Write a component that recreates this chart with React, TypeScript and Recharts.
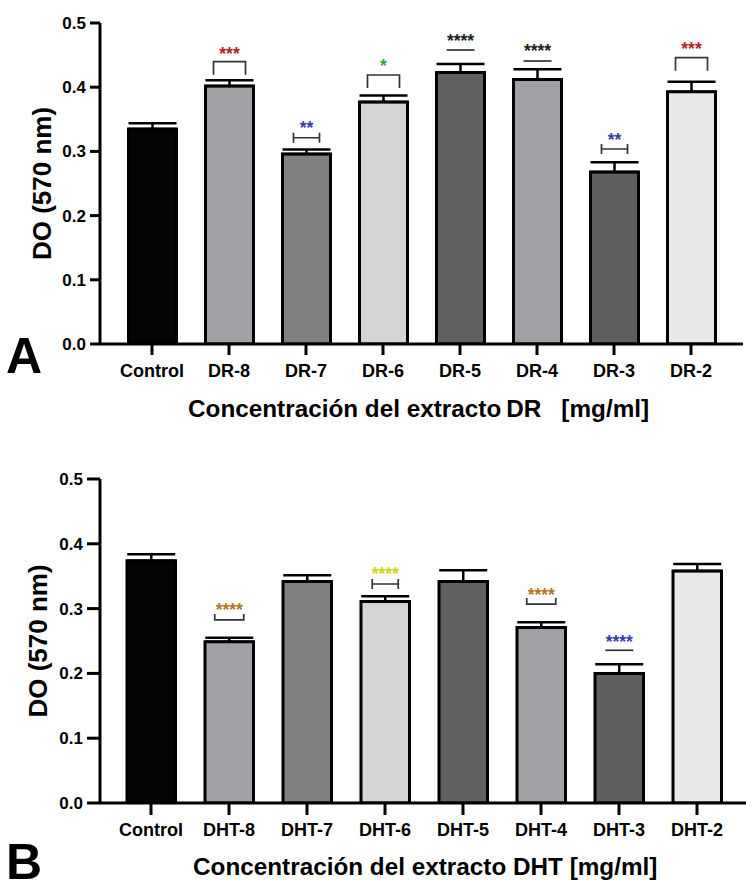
import React from 'react';
import { BarChart, Bar, XAxis, YAxis, ErrorBar, Cell } from 'recharts';

const FONT = '"Liberation Sans", Arial, Helvetica, sans-serif';

// ---------- Panel A data ----------
const categoriesA = ['Control', 'DR-8', 'DR-7', 'DR-6', 'DR-5', 'DR-4', 'DR-3', 'DR-2'];
const valuesA = [0.335, 0.402, 0.296, 0.377, 0.423, 0.412, 0.268, 0.393];
const errorsA = [0.009, 0.009, 0.007, 0.01, 0.013, 0.016, 0.015, 0.0156];
const sigA = ['', '***', '**', '*', '****', '****', '**', '***'];
const sigColorA = ['', '#b3232b', '#3b40a8', '#2aa83a', '#222222', '#222222', '#3b40a8', '#b3232b'];
const sigMarkA = ['none', 'down', 'ibeam', 'down', 'line', 'line', 'ibeam', 'down'];
const sigStarLevelA = [0, 0.4595, 0.3427, 0.4397, 0.4787, 0.463, 0.3255, 0.4668];
const sigMarkLevelA = [0, 0.4397, 0.3213, 0.419, 0.458, 0.4408, 0.3037, 0.446];

// ---------- Panel B data ----------
const categoriesB = ['Control', 'DHT-8', 'DHT-7', 'DHT-6', 'DHT-5', 'DHT-4', 'DHT-3', 'DHT-2'];
const valuesB = [0.374, 0.249, 0.342, 0.311, 0.342, 0.271, 0.2, 0.358];
const errorsB = [0.01, 0.006, 0.0096, 0.008, 0.017, 0.008, 0.014, 0.011];
const sigB = ['', '****', '', '****', '', '****', '****', ''];
const sigColorB = ['', '#ad7a26', '', '#d2d21c', '', '#ad7a26', '#3b40b0', ''];
const sigMarkB = ['none', 'up', 'none', 'ibeam', 'none', 'up', 'line', 'none'];
const sigStarLevelB = [0, 0.3046, 0, 0.361, 0, 0.328, 0.2558, 0];
const sigMarkLevelB = [0, 0.2825, 0, 0.338, 0, 0.307, 0.2357, 0];

const yTicks = [0, 0.1, 0.2, 0.3, 0.4, 0.5];

const barFills = ['#050505', '#a0a1a5', '#808080', '#d4d4d4', '#606060', '#a0a1a5', '#5f5f5f', '#e8e9e8'];

const dataA = categoriesA.map((name, i) => ({ name, value: valuesA[i], err: [0, errorsA[i]] }));
const dataB = categoriesB.map((name, i) => ({ name, value: valuesB[i], err: [0, errorsB[i]] }));

function makeSigLabel(
  sig: string[],
  colors: string[],
  marks: string[],
  starLv: number[],
  markLv: number[]
) {
  return (props: any) => {
    const { x, y, width, height, index, value } = props;
    const i = Number(index);
    const s = sig[i];
    if (!s) return null;
    const v = Number(Array.isArray(value) ? value[1] : value);
    const h = Number(height);
    const k = h / v;
    const base = Number(y) + h;
    const py = (val: number) => base - val * k;
    const cx = Number(x) + Number(width) / 2;
    const m = marks[i];
    const my = py(markLv[i]);
    let mark: React.ReactNode = null;
    const st = { stroke: '#333', strokeWidth: 1.7, fill: 'none' };
    if (m === 'down') {
      const hw = 16;
      mark = <path d={`M${cx - hw},${my + 13} L${cx - hw},${my} L${cx + hw},${my} L${cx + hw},${my + 13}`} {...st} />;
    } else if (m === 'up') {
      const hw = 14.5;
      mark = <path d={`M${cx - hw},${my - 6} L${cx - hw},${my} L${cx + hw},${my} L${cx + hw},${my - 6}`} {...st} />;
    } else if (m === 'ibeam') {
      const hw = 13;
      mark = (
        <path
          d={`M${cx - hw},${my - 5} L${cx - hw},${my + 5} M${cx - hw},${my} L${cx + hw},${my} M${cx + hw},${my - 5} L${cx + hw},${my + 5}`}
          {...st}
        />
      );
    } else if (m === 'line') {
      const hw = 14;
      mark = <path d={`M${cx - hw},${my} L${cx + hw},${my}`} {...st} />;
    }
    return (
      <g>
        {mark}
        <text
          x={cx}
          y={py(starLv[i]) + 10.5}
          textAnchor="middle"
          fontSize={17.5}
          fontWeight="bold"
          fontFamily={FONT}
          fill={colors[i]}
        >
          {s}
        </text>
      </g>
    );
  };
}

const yLabel = (dx: number) => (props: any) => {
  const vb = props.viewBox || { x: 0, y: 0, width: 100, height: 300 };
  const cx = vb.x + dx;
  const cy = vb.y + vb.height / 2;
  return (
    <text
      x={cx}
      y={cy}
      transform={`rotate(-90 ${cx} ${cy})`}
      textAnchor="middle"
      fontSize={26}
      fontWeight="bold"
      fontFamily={FONT}
      fill="#000"
    >
      DO (570 nm)
    </text>
  );
};

const xLabelA = (props: any) => {
  const vb = props.viewBox || { x: 100, y: 344, width: 643, height: 96 };
  const by = vb.y + 73;
  return (
    <g>
      <text x={6} y={vb.y + 29} fontSize={50} fontWeight="bold" fontFamily={FONT} fill="#000">
        A
      </text>
      <text x={188} y={by} fontSize={24.3} fontWeight="bold" fontFamily={FONT} fill="#000">
        Concentración del extracto
        <tspan dx={5}>DR</tspan>
        <tspan dx={20}>[mg/ml]</tspan>
      </text>
    </g>
  );
};

const xLabelB = (props: any) => {
  const vb = props.viewBox || { x: 100, y: 363, width: 646, height: 77 };
  return (
    <g>
      <text x={6} y={vb.y + 76} fontSize={50} fontWeight="bold" fontFamily={FONT} fill="#000">
        B
      </text>
      <text x={193} y={vb.y + 72} fontSize={24.3} fontWeight="bold" fontFamily={FONT} fill="#000">
        Concentración del extracto DHT [mg/ml]
      </text>
    </g>
  );
};

const axisStyle = { stroke: '#000', strokeWidth: 3 };
const tickFont = { fill: '#000', fontSize: 18, fontWeight: 'bold', fontFamily: FONT };
const yTickFont = { fill: '#000', fontSize: 17, fontWeight: 'bold', fontFamily: FONT };

export default function App() {
  return (
    <div style={{ position: 'absolute', left: 0, top: 0, width: 746, height: 880, background: '#fff', overflow: 'hidden' }}>
      <div style={{ position: 'absolute', left: 0, top: 0 }}>
        <BarChart width={746} height={440} data={dataA} margin={{ top: 23, right: 3, bottom: 0, left: 0 }}>
          <XAxis
            dataKey="name"
            interval={0}
            height={96}
            padding={{ left: 13.5, right: 13.5 }}
            axisLine={axisStyle}
            tickLine={axisStyle}
            tickSize={11}
            tickMargin={9}
            tick={tickFont}
            label={{ content: xLabelA }}
          />
          <YAxis
            domain={[0, 0.5]}
            ticks={yTicks}
            tickFormatter={(v: number) => v.toFixed(1)}
            width={100}
            axisLine={axisStyle}
            tickLine={axisStyle}
            tickSize={10}
            tickMargin={4}
            tick={yTickFont}
            allowDataOverflow
            label={{ content: yLabel(51) }}
          />
          <Bar
            dataKey="value"
            barSize={48}
            stroke="#000"
            strokeWidth={3}
            isAnimationActive={false}
            label={makeSigLabel(sigA, sigColorA, sigMarkA, sigStarLevelA, sigMarkLevelA)}
          >
            {dataA.map((d, i) => (
              <Cell key={d.name} fill={barFills[i]} />
            ))}
            <ErrorBar dataKey="err" direction="y" width={24} stroke="#000" strokeWidth={2.5} isAnimationActive={false} />
          </Bar>
        </BarChart>
      </div>
      <div style={{ position: 'absolute', left: 0, top: 440 }}>
        <BarChart width={746} height={440} data={dataB} margin={{ top: 39, right: 0, bottom: 0, left: 0 }}>
          <XAxis
            dataKey="name"
            interval={0}
            height={77}
            padding={{ left: 12, right: 10 }}
            axisLine={axisStyle}
            tickLine={axisStyle}
            tickSize={12}
            tickMargin={8}
            tick={tickFont}
            label={{ content: xLabelB }}
          />
          <YAxis
            domain={[0, 0.5]}
            ticks={yTicks}
            tickFormatter={(v: number) => v.toFixed(1)}
            width={100}
            axisLine={axisStyle}
            tickLine={axisStyle}
            tickSize={13}
            tickMargin={4}
            tick={yTickFont}
            allowDataOverflow
            label={{ content: yLabel(47) }}
          />
          <Bar
            dataKey="value"
            barSize={48.5}
            stroke="#000"
            strokeWidth={3}
            isAnimationActive={false}
            label={makeSigLabel(sigB, sigColorB, sigMarkB, sigStarLevelB, sigMarkLevelB)}
          >
            {dataB.map((d, i) => (
              <Cell key={d.name} fill={barFills[i]} />
            ))}
            <ErrorBar dataKey="err" direction="y" width={24} stroke="#000" strokeWidth={2.5} isAnimationActive={false} />
          </Bar>
        </BarChart>
      </div>
    </div>
  );
}
